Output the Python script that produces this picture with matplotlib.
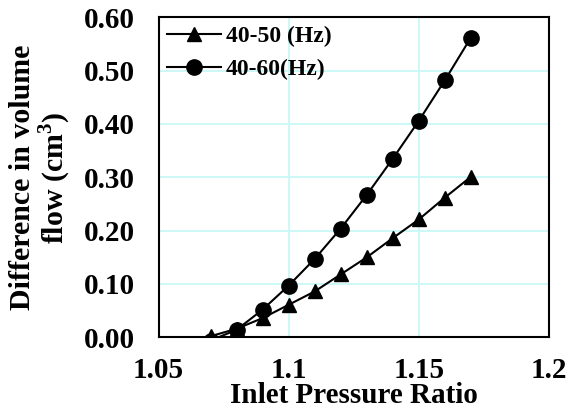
import numpy as np
import matplotlib
matplotlib.use("Agg")
import matplotlib.pyplot as plt

plt.rcParams['font.family'] = ['Liberation Serif', 'DejaVu Serif']
plt.rcParams['font.weight'] = 'bold'
plt.rcParams['mathtext.fontset'] = 'custom'
plt.rcParams['mathtext.rm'] = 'Liberation Serif:bold'

# data
ratio = [1.07, 1.08, 1.09, 1.10, 1.11, 1.12, 1.13, 1.14, 1.15, 1.16, 1.17]
flow_40_50 = [0.002, 0.016, 0.036, 0.061, 0.086, 0.118, 0.150, 0.186, 0.221, 0.262, 0.301]
flow_40_60 = [-0.006, 0.014, 0.052, 0.097, 0.147, 0.204, 0.267, 0.335, 0.406, 0.482, 0.562]

fig = plt.figure(figsize=(5.72, 4.12), dpi=100)
ax = fig.add_axes([0.2771, 0.1813, 0.6827, 0.7767])

ax.plot(ratio, flow_40_50, '-^', color='k', lw=1.5, ms=10.5, label='40-50 (Hz)')
ax.plot(ratio, flow_40_60, '-o', color='k', lw=1.5, ms=11, label='40-60(Hz)')

ax.set_xlim(1.05, 1.2)
ax.set_ylim(0, 0.6)
ax.set_xticks([1.05, 1.1, 1.15, 1.2])
ax.set_xticklabels(['1.05', '1.1', '1.15', '1.2'])
ax.set_yticks(np.arange(0, 0.61, 0.1))
ax.set_yticklabels(['%.2f' % v for v in np.arange(0, 0.61, 0.1)])
ax.tick_params(length=0, labelsize=21)
ax.tick_params(axis='x', pad=14)
ax.tick_params(axis='y', pad=17)
ax.grid(True, color='#c8f8f8', lw=1.3)
ax.set_axisbelow(True)
for s in ax.spines.values():
    s.set_linewidth(1.5)

ax.set_xlabel('Inlet Pressure Ratio', fontsize=21, fontweight='bold', labelpad=-1)
ax.set_ylabel('Difference in volume\nflow (cm$^3$)', fontsize=21.5, fontweight='bold',
              multialignment='center', labelpad=8, linespacing=1.0)

ax.legend(loc='upper left', frameon=False, fontsize=17, handlelength=2.3,
          handletextpad=0.2, borderaxespad=0.25, labelspacing=0.5,
          borderpad=0.1)

fig.savefig('out.png', dpi=100)
